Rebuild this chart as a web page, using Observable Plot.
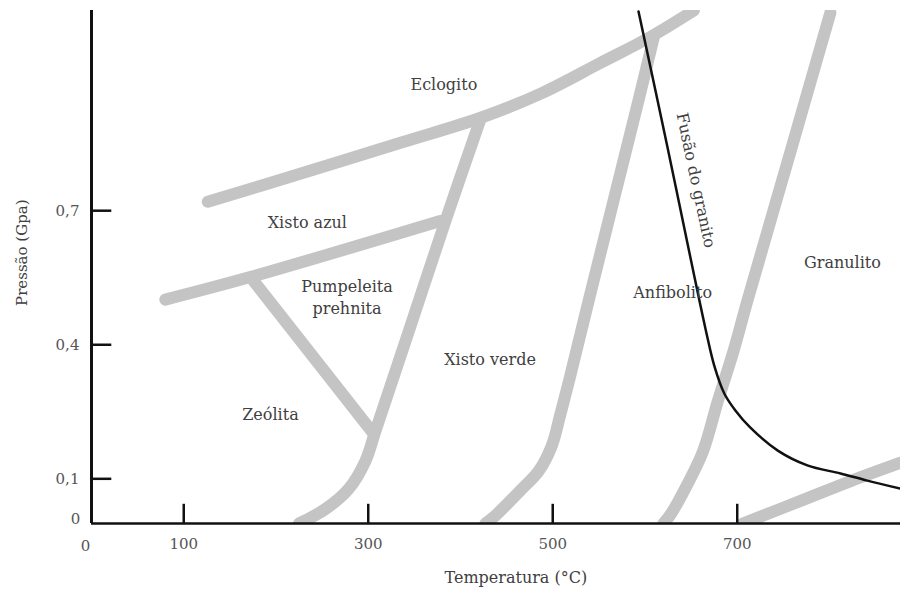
<!DOCTYPE html>
<html><head><meta charset="utf-8">
<script src="https://cdn.jsdelivr.net/npm/d3@7"></script>
<script src="https://cdn.jsdelivr.net/npm/@observablehq/plot@0.6"></script>
<style>body{margin:0;background:#fff}</style>
</head><body><div id="chart"></div>
<script>
// Temperature (°C) and pressure (GPa) readings for each facies boundary band
const eclogitoT = [126, 227, 335, 422, 487, 552, 606, 653];
const eclogitoP = [0.720, 0.783, 0.852, 0.908, 0.962, 1.031, 1.089, 1.148];
const azulT = [80, 173, 378];
const azulP = [0.501, 0.552, 0.677];
const zeolitaT = [173, 305];
const zeolitaP = [0.550, 0.203];
const verdeT = [422, 384, 346, 308, 297, 279, 254, 225];
const verdeP = [0.907, 0.679, 0.443, 0.208, 0.140, 0.078, 0.033, 0];
const anfiT = [610, 593, 566, 539, 518, 508, 499, 485, 465, 438, 427];
const anfiP = [1.092, 0.947, 0.723, 0.499, 0.322, 0.242, 0.174, 0.118, 0.074, 0.018, 0];
const granT = [801, 758, 711, 696, 679, 663, 646, 628, 620];
const granP = [1.143, 0.834, 0.498, 0.386, 0.274, 0.162, 0.088, 0.021, 0];
const baixoT = [706, 768, 823, 877];
const baixoP = [0, 0.050, 0.095, 0.136];
// Granite melting curve
const fusaoT = [593, 624, 654, 666, 675, 686, 698, 714, 744, 776, 812, 841, 877];
const fusaoP = [1.146, 0.846, 0.548, 0.432, 0.354, 0.291, 0.253, 0.215, 0.163, 0.130, 0.112, 0.096, 0.078];
// Region labels
const regionNames = ["Eclogito", "Xisto azul", "Pumpeleita\nprehnita", "Zeólita", "Xisto verde", "Anfibolito", "Granulito"];
const regionT = [382, 234, 277, 194, 432, 630, 814];
const regionP = [0.987, 0.677, 0.509, 0.248, 0.371, 0.520, 0.588];
const fusaoLabel = "Fusão do granito";
const fusaoLabelT = 655, fusaoLabelP = 0.768;
// Ticks
const xTicks = [100, 300, 500, 700];
const yTicks = [0.1, 0.4, 0.7];
const xTitle = "Temperatura (°C)";
const yTitle = "Pressão (Gpa)";

const toRows = (T, P) => T.map((t, i) => ({T: t, P: P[i]}));
const bands = [[eclogitoT, eclogitoP], [azulT, azulP], [zeolitaT, zeolitaP], [verdeT, verdeP],
  [anfiT, anfiP], [granT, granP], [baixoT, baixoP]].map(([T, P]) => toRows(T, P));
const regions = regionNames.map((n, i) => ({name: n, T: regionT[i], P: regionP[i]}));
const comma = d => d.toFixed(1).replace(".", ",");
const serif = "'DejaVu Serif', serif";
const txt = "#404040";

const plot = Plot.plot({
  width: 902, height: 596,
  marginLeft: 91, marginRight: 2, marginTop: 10, marginBottom: 73,
  x: {domain: [0, 877], axis: null},
  y: {domain: [0, 1.148], axis: null},
  style: {fontFamily: serif, background: "#fff"},
  marks: [
    ...bands.map(b => Plot.line(b, {x: "T", y: "P", stroke: "#c4c4c4", strokeWidth: 12, curve: "catmull-rom", clip: true})),
    Plot.line(toRows(fusaoT, fusaoP), {x: "T", y: "P", stroke: "#111", strokeWidth: 2.5, curve: "catmull-rom", clip: true}),
    Plot.text(regions, {x: "T", y: "P", text: "name", fontSize: 16, fill: txt, lineHeight: 1.38}),
    Plot.text([fusaoLabel], {x: () => fusaoLabelT, y: () => fusaoLabelP, rotate: 78, fontSize: 16, fill: txt}),
    // axes
    Plot.ruleX([0], {stroke: "#111", strokeWidth: 3}),
    Plot.ruleY([0], {stroke: "#111", strokeWidth: 2.5}),
    Plot.ruleX(xTicks, {y1: 0, y2: 0.043, stroke: "#111", strokeWidth: 2.5}),
    Plot.ruleY(yTicks, {x1: 0, x2: 22, stroke: "#111", strokeWidth: 2.5}),
    Plot.text(xTicks, {x: d => d, y: 0, dy: 21, text: d => String(d), fontSize: 15, fill: "#555"}),
    Plot.text([0], {x: 0, y: 0, dx: -6, dy: 23, text: d => String(d), fontSize: 15, fill: "#555"}),
    Plot.text(yTicks, {x: 0, y: d => d, dx: -24, text: comma, fontSize: 15, fill: "#555"}),
    Plot.text([0], {x: 0, y: 0, dx: -16, dy: -4, text: d => String(d), fontSize: 15, fill: "#555"}),
    Plot.text([xTitle], {x: () => 460, frameAnchor: "bottom", dy: 59, text: d => d, fontSize: 16, fill: txt}),
    Plot.text([yTitle], {y: () => 0.606, frameAnchor: "left", textAnchor: "middle", dx: -69, rotate: -90, text: d => d, fontSize: 15, fill: txt})
  ]
});
document.getElementById("chart").appendChild(plot);
</script>
</body></html>
